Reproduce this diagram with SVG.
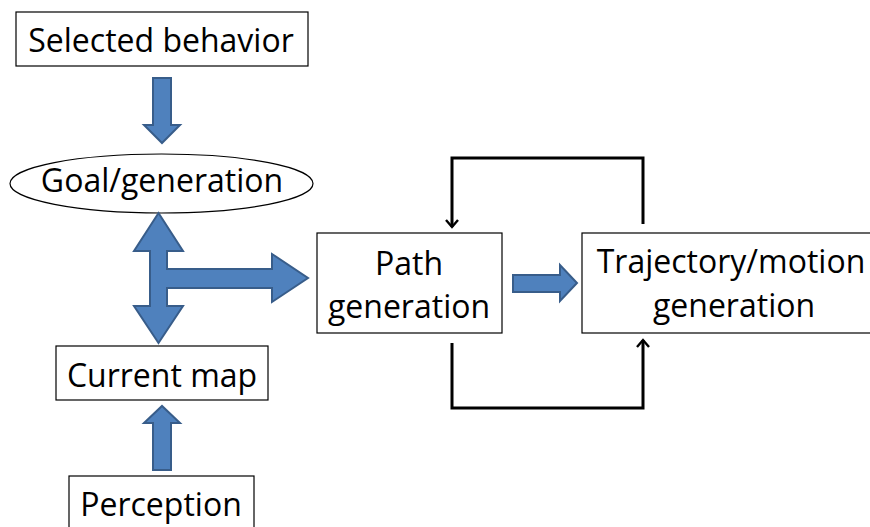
<svg xmlns="http://www.w3.org/2000/svg" width="870" height="527" viewBox="0 0 870 527">
  <defs>
    <style>
      .box { fill: #ffffff; stroke: #000000; stroke-width: 1.2; }
      .lbl { font-family: "Open Sans", "Liberation Sans", sans-serif; font-size: 32px; fill: #000000; text-anchor: middle; }
      .blk { fill: #4F81BD; stroke: #385D8A; stroke-width: 2; stroke-linejoin: miter; }
      .loop { fill: none; stroke: #000000; stroke-width: 3; marker-end: url(#head); }
    </style>
    <marker id="head" viewBox="0 0 14 14" refX="12" refY="7" markerWidth="14" markerHeight="14" markerUnits="userSpaceOnUse" orient="auto">
      <path d="M5,1 L12,7 L5,13" fill="none" stroke="#000000" stroke-width="2.4"/>
    </marker>
  </defs>

  <g id="selected-behavior">
    <rect class="box" x="16" y="12" width="292" height="54"/>
    <text class="lbl" x="161" y="52">Selected behavior</text>
  </g>

  <g id="goal-generation">
    <ellipse class="box" cx="161.5" cy="183.5" rx="151.5" ry="29.5"/>
    <text class="lbl" x="162" y="192">Goal/generation</text>
  </g>

  <g id="path-generation">
    <rect class="box" x="317" y="233" width="185" height="100"/>
    <text class="lbl" x="409" y="275">Path</text>
    <text class="lbl" x="409" y="318">generation</text>
  </g>

  <g id="trajectory-generation">
    <rect class="box" x="582" y="233" width="300" height="100"/>
    <text class="lbl" x="731" y="273">Trajectory/motion</text>
    <text class="lbl" x="734" y="317">generation</text>
  </g>

  <g id="current-map">
    <rect class="box" x="56" y="346" width="212" height="54"/>
    <text class="lbl" x="162" y="387">Current map</text>
  </g>

  <g id="perception">
    <rect class="box" x="69" y="476" width="185" height="60"/>
    <text class="lbl" x="161" y="516">Perception</text>
  </g>

  <g id="connectors">
    <!-- block arrow: selected behavior to goal -->
    <path class="blk" d="M153,78 L171,78 L171,125 L180,125 L162,143 L144,125 L153,125 Z"/>
    <!-- three-way block arrow: goal / current map / path generation -->
    <path class="blk" d="M158.5,213 L183,251 L167,251 L167,269 L272,269 L272,254 L308,278 L272,302 L272,288 L167,288 L167,306 L183,306 L158.5,343 L134,306 L150,306 L150,251 L134,251 Z"/>
    <!-- block arrow: path to trajectory -->
    <path class="blk" d="M513,275 L560,275 L560,265 L577,283 L560,301 L560,292 L513,292 Z"/>
    <!-- block arrow: perception to current map -->
    <path class="blk" d="M153,470 L153,423 L144,423 L162,406 L180,423 L171,423 L171,470 Z"/>
    <!-- feedback loops -->
    <path class="loop" d="M643,224 L643,158 L452,158 L452,227"/>
    <path class="loop" d="M452,343 L452,408 L643,408 L643,340"/>
  </g>
</svg>
